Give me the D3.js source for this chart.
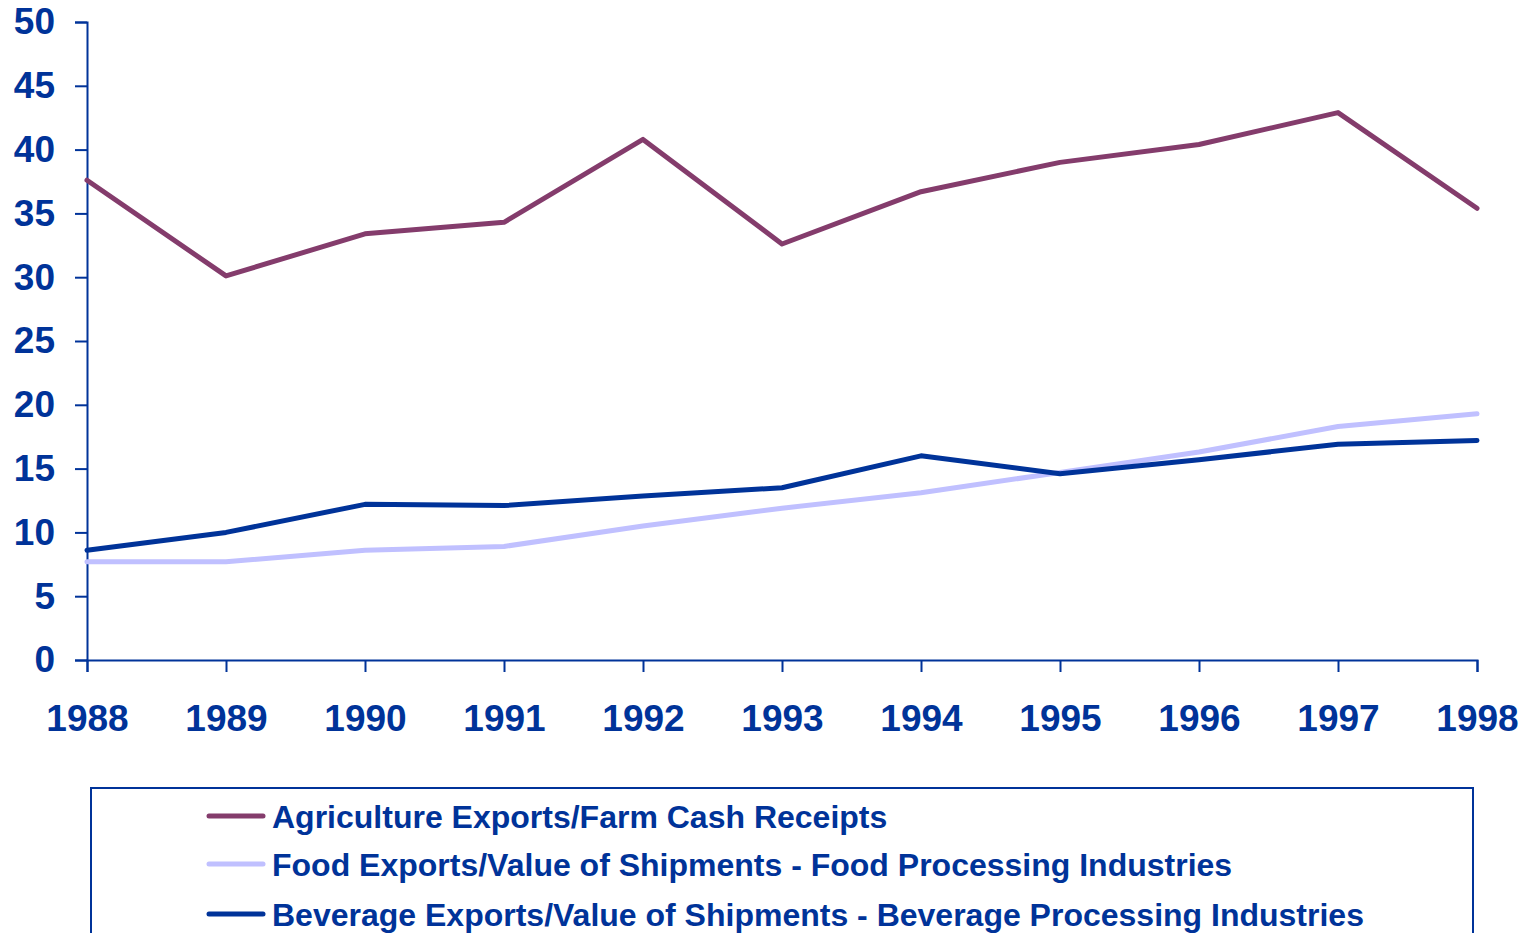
<!DOCTYPE html>
<html><head><meta charset="utf-8">
<script src="https://cdn.jsdelivr.net/npm/d3@7"></script>
<style>body{margin:0;background:#fff}svg{display:block}</style>
</head><body>
<svg id="c" width="1530" height="933"></svg>
<script>
const years = [1988,1989,1990,1991,1992,1993,1994,1995,1996,1997,1998];
const agriculture = [37.6,30.1,33.4,34.3,40.8,32.6,36.7,39.0,40.4,42.9,35.4];
const food = [7.7,7.7,8.6,8.9,10.5,11.9,13.1,14.7,16.3,18.3,19.3];
const beverage = [8.6,10.0,12.2,12.1,12.85,13.5,16.0,14.6,15.7,16.9,17.2];
const yTicks = [0,5,10,15,20,25,30,35,40,45,50];
const seriesNames = ["Agriculture Exports/Farm Cash Receipts","Food Exports/Value of Shipments - Food Processing Industries","Beverage Exports/Value of Shipments - Beverage Processing Industries"];
const seriesColors = ["#843C6C","#C0C0FF","#003399"];
const seriesData = [agriculture, food, beverage];

const axisColor = "#003399";
const font = "'Liberation Sans', Arial, sans-serif";
const svg = d3.select("#c");
const x = d3.scaleLinear().domain([1988,1998]).range([87,1477]);
const y = d3.scaleLinear().domain([0,50]).range([660,22]);

const yAxis = svg.append("g").attr("transform","translate(87,0)")
  .call(d3.axisLeft(y).tickValues(yTicks).tickSize(12).tickPadding(20).tickFormat(d3.format("d")));
const xAxis = svg.append("g").attr("transform","translate(0,660)")
  .call(d3.axisBottom(x).tickValues(years).tickSize(12).tickPadding(33).tickFormat(d3.format("d")));
[yAxis,xAxis].forEach(a=>{
  a.select(".domain").attr("stroke",axisColor).attr("stroke-width",2);
  a.selectAll(".tick line").attr("stroke",axisColor).attr("stroke-width",2);
  a.selectAll(".tick text").attr("fill",axisColor).attr("font-family",font).attr("font-weight","bold").attr("font-size",37);
});

const line = d3.line().x((d,i)=>x(years[i])).y(d=>y(d));
// draw food first, then beverage, then agriculture
[1,2,0].forEach(k=>{
  svg.append("path").datum(seriesData[k]).attr("d",line)
    .attr("fill","none").attr("stroke",seriesColors[k]).attr("stroke-width",5)
    .attr("stroke-linejoin","round").attr("stroke-linecap","round");
});

// legend
svg.append("rect").attr("x",91).attr("y",788).attr("width",1382).attr("height",200)
  .attr("fill","none").attr("stroke",axisColor).attr("stroke-width",2);
const ly = [816,864,914];
seriesNames.forEach((n,i)=>{
  svg.append("line").attr("x1",209).attr("x2",263).attr("y1",ly[i]).attr("y2",ly[i])
    .attr("stroke",seriesColors[i]).attr("stroke-width",5).attr("stroke-linecap","round");
  svg.append("text").attr("x",272).attr("y",ly[i]).attr("dy","0.36em").text(n)
    .attr("fill",axisColor).attr("font-family",font).attr("font-weight","bold").attr("font-size",32);
});
</script>
</body></html>
